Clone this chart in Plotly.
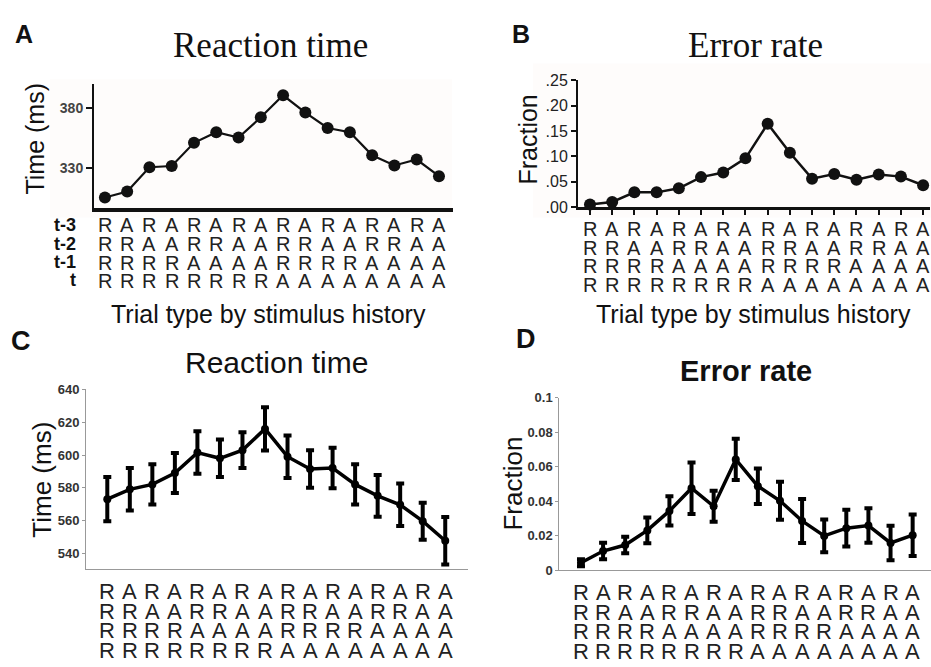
import plotly.graph_objects as go

W, H = 931, 667

# Stimulus history for each trial type (t-3, t-2, t-1, t); R = repeat, A = alternate
hist_t3 = list("RARARARARARARARA")
hist_t2 = list("RRAARRAARRAARRAA")
hist_t1 = list("RRRRAAAARRRRAAAA")
hist_t0 = list("RRRRRRRRAAAAAAAA")
history_rows = [hist_t3, hist_t2, hist_t1, hist_t0]
row_labels = ["t-3", "t-2", "t-1", "t"]

trial_idx = list(range(16))

# Panel A: reaction time (ms)
rt_a = [305, 310, 330.5, 331.5, 351, 360, 355.5, 372.5, 391, 376.5, 363.5, 360, 340.5, 332, 337, 323]
# Panel B: error rate (fraction)
err_b = [0.005, 0.010, 0.029, 0.029, 0.037, 0.059, 0.068, 0.096, 0.164, 0.107, 0.056, 0.065, 0.054, 0.064, 0.060, 0.043]
# Panel C: reaction time (ms) with SEM
rt_c = [573, 579, 582, 589, 601.5, 598, 603, 616, 599, 591.5, 592, 582, 575, 569.5, 559.5, 547.5]
rt_c_sem = [13.5, 13, 12.3, 12.3, 13, 11.5, 11, 13.2, 13, 11.5, 12.4, 12.3, 12.8, 13, 11.3, 14.6]
# Panel D: error rate (fraction) with SEM
err_d = [0.0042, 0.011, 0.0145, 0.023, 0.0343, 0.0475, 0.037, 0.0642, 0.0487, 0.0402, 0.0285, 0.0198, 0.0243, 0.0258, 0.0157, 0.0202]
err_d_sem = [0.002, 0.0048, 0.0048, 0.0075, 0.0085, 0.015, 0.009, 0.012, 0.0103, 0.011, 0.0128, 0.0095, 0.0107, 0.01, 0.01, 0.012]

ticks_a = [330, 380]
ticks_b = [0, 0.05, 0.10, 0.15, 0.20, 0.25]
ticks_b_text = [".00", ".05", ".10", ".15", ".20", ".25"]
ticks_c = [540, 560, 580, 600, 620, 640]
ticks_d = [0, 0.02, 0.04, 0.06, 0.08, 0.1]
ticks_d_text = ["0", "0.02", "0.04", "0.06", "0.08", "0.1"]


def px(x):
    return x / W


def py(y):
    return 1 - y / H


SANS = "Arial, Liberation Sans, sans-serif"
SERIF = "Times New Roman, Liberation Serif, serif"

fig = go.Figure()

# A
fig.add_trace(go.Scatter(x=trial_idx, y=rt_a, mode="lines+markers",
                         line=dict(color="#111", width=2.2),
                         marker=dict(color="#111", size=12),
                         xaxis="x", yaxis="y", cliponaxis=False, showlegend=False))
# B
fig.add_trace(go.Scatter(x=trial_idx, y=err_b, mode="lines+markers",
                         line=dict(color="#111", width=2.5),
                         marker=dict(color="#111", size=12),
                         xaxis="x2", yaxis="y2", cliponaxis=False, showlegend=False))
# C
fig.add_trace(go.Scatter(x=trial_idx, y=rt_c, mode="lines+markers",
                         line=dict(color="#000", width=3.5),
                         marker=dict(color="#000", size=8),
                         error_y=dict(type="data", array=rt_c_sem, color="#000",
                                      thickness=4, width=4),
                         xaxis="x3", yaxis="y3", cliponaxis=False, showlegend=False))
# D
fig.add_trace(go.Scatter(x=trial_idx, y=err_d, mode="lines+markers",
                         line=dict(color="#000", width=3.5),
                         marker=dict(color="#000", size=8),
                         error_y=dict(type="data", array=err_d_sem, color="#000",
                                      thickness=4, width=4),
                         xaxis="x4", yaxis="y4", cliponaxis=False, showlegend=False))

common_x = dict(showgrid=False, zeroline=False, showticklabels=False, fixedrange=True)
common_y = dict(showgrid=False, zeroline=False, fixedrange=True)

fig.update_layout(
    width=W, height=H,
    margin=dict(l=0, r=0, t=0, b=0),
    paper_bgcolor="white", plot_bgcolor="rgba(0,0,0,0)",
    font=dict(family=SANS, color="#111"),
    # A
    xaxis=dict(domain=[px(94), px(453)], range=[-0.49, 15.63], anchor="y",
               showline=True, linecolor="#111", linewidth=3.5, ticks="", **common_x),
    yaxis=dict(domain=[py(205), py(78)], range=[296.4, 400.5], anchor="x",
               showline=True, linecolor="#111", linewidth=2,
               tickvals=ticks_a, ticks="outside", ticklen=6, tickwidth=2, tickcolor="#111",
               tickfont=dict(family=SANS, size=14, color="#444", weight="bold"), **common_y),
    # B
    xaxis2=dict(domain=[px(578), px(930)], range=[-0.54, 15.31], anchor="y2",
                showline=True, linecolor="#111", linewidth=2.5,
                tickvals=trial_idx, ticks="outside", ticklen=5, tickwidth=2, tickcolor="#111",
                **common_x),
    yaxis2=dict(domain=[py(204.3), py(74)], range=[0, 0.25], anchor="x2",
                showline=True, linecolor="#111", linewidth=2,
                tickvals=ticks_b, ticktext=ticks_b_text, ticks="outside", ticklen=5,
                tickwidth=2, tickcolor="#111",
                tickfont=dict(family=SANS, size=16, color="#222"), **common_y),
    # C
    xaxis3=dict(domain=[px(86), px(468)], range=[-0.945, 16.01], anchor="y3",
                showline=True, linecolor="#999", linewidth=1, ticks="", **common_x),
    yaxis3=dict(domain=[py(575.7), py(390.7)], range=[530.2, 640.6], anchor="x3",
                showline=True, linecolor="#999", linewidth=1,
                tickvals=ticks_c, ticks="outside", ticklen=3, tickwidth=1, tickcolor="#999",
                tickfont=dict(family=SANS, size=13, color="#333", weight="bold"), **common_y),
    # D
    xaxis4=dict(domain=[px(559.3), px(931)], range=[-0.98, 15.83], anchor="y4",
                showline=True, linecolor="#999", linewidth=1, ticks="", **common_x),
    yaxis4=dict(domain=[py(576.7), py(400)], range=[0, 0.1], anchor="x4",
                showline=True, linecolor="#999", linewidth=1,
                tickvals=ticks_d, ticktext=ticks_d_text, ticks="outside", ticklen=3,
                tickwidth=1, tickcolor="#999",
                tickfont=dict(family=SANS, size=13, color="#333", weight="bold"), **common_y),
)

# faint tinted backgrounds behind the top panels
shapes = [
    dict(type="rect", xref="paper", yref="paper", x0=px(50), x1=px(452), y0=py(215), y1=py(73),
         fillcolor="rgb(254,252,251)", line=dict(width=0), layer="below"),
    dict(type="rect", xref="paper", yref="paper", x0=px(533), x1=1, y0=py(215), y1=py(57),
         fillcolor="rgb(254,252,251)", line=dict(width=0), layer="below"),
]
fig.update_layout(shapes=shapes)

ann = []


def text(x, y, s, size, family=SANS, bold=False, angle=0, xanchor="center", color="#111"):
    ann.append(dict(x=px(x), y=py(y), xref="paper", yref="paper", text=s, showarrow=False,
                    xanchor=xanchor, yanchor="middle", textangle=angle,
                    font=dict(family=family, size=size, color=color,
                              weight="bold" if bold else "normal")))


# panel letters
text(24, 27, "A", 25, bold=True)
text(521, 27, "B", 25, bold=True)
text(21, 342, "C", 27, bold=True)
text(526, 340, "D", 27, bold=True)

# titles
text(270, 38, "Reaction time", 35, family=SERIF)
text(755, 38, "Error rate", 35, family=SERIF)
text(276, 364, "Reaction time", 30)
text(746, 373, "Error rate", 29, bold=True)

# axis titles
text(35, 134, "Time (ms)", 25, angle=-90)
text(528, 135, "Fraction", 25, angle=-90)
text(42, 484, "Time (ms)", 26, angle=-90)
text(513, 488, "Fraction", 26, angle=-90)

# x-axis titles
text(268, 314, "Trial type by stimulus history", 25)
text(753, 314, "Trial type by stimulus history", 25)

# row labels for panel A
for lab, yy in zip(row_labels, [223, 242.5, 261, 279]):
    text(78, yy, lab, 18, bold=True, xanchor="right")


def history_letters(xref, rows_y, size):
    for row, yy in zip(history_rows, rows_y):
        for i, ch in zip(trial_idx, row):
            ann.append(dict(x=i, y=py(yy), xref=xref, yref="paper", text=ch, showarrow=False,
                            xanchor="center", yanchor="middle",
                            font=dict(family=SANS, size=size, color="#222")))


history_letters("x", [223, 242.5, 261.5, 280.5], 20)
history_letters("x2", [227, 246, 265, 284], 20)
history_letters("x3", [599, 619, 639, 659], 22)
history_letters("x4", [600, 620, 640, 660], 22)

fig.update_layout(annotations=ann)

fig.write_html("out.html")
